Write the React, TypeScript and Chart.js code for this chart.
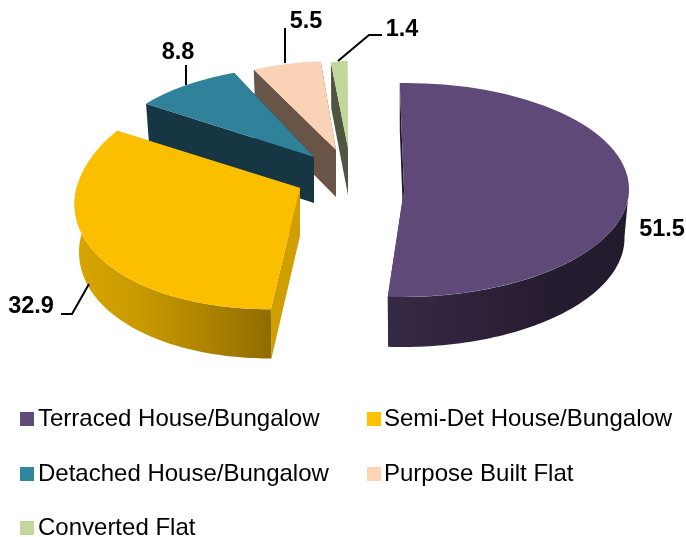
import React, { useEffect, useRef } from "react";
import { Chart, registerables } from "chart.js";

Chart.register(...registerables);

const categories = [
  "Terraced House/Bungalow",
  "Semi-Det House/Bungalow",
  "Detached House/Bungalow",
  "Purpose Built Flat",
  "Converted Flat",
];
const shares = [51.5, 32.9, 8.8, 5.5, 1.4];
const topColors = ["#5f4978", "#fcbf00", "#2f8299", "#fad2b6", "#c3d69b"];
const legendColors = ["#604a7b", "#ffc000", "#31859c", "#fcd5b5", "#c3d69b"];
const faceColors = ["#1f1629", "#cf9e00", "#153642", "#695548", "#4f5540"];
const wallStops = [
  ["#352a45", "#30223c", "#261c30", "#231a2e"],
  ["#d8a500", "#c99900", "#ad8400", "#8f6c00"],
  ["#153642", "#153642"],
  ["#695548", "#695548"],
  ["#4f5540", "#4f5540"],
];

const ARC_RADIUS = 100;
// Per-slice projection of the pie's plane onto the screen (exploded, tilted view)
const projections = [
  { ox: 404, oy: 190, a: 225, b: 0, c: -2, d: 107, depth: 49 },
  { ox: 300, oy: 188, a: 225, b: -8, c: -15, d: 121, depth: 48 },
  { ox: 314, oy: 157, a: 206, b: 6, c: -13, d: 91, depth: 46 },
  { ox: 336, oy: 150, a: 201, b: 2, c: -8, d: 89, depth: 47 },
  { ox: 348, oy: 148, a: 191, b: -16, c: -5, d: 88, depth: 47 },
];
const labelSpots = [
  { x: 662, y: 230 },
  { x: 31, y: 307 },
  { x: 178, y: 53 },
  { x: 306, y: 22 },
  { x: 402, y: 30 },
];
const leaders = [
  [],
  [[61, 314], [72, 314], [89, 284]],
  [[186, 65], [186, 85]],
  [[285, 28], [285, 63]],
  [[382, 35], [369, 35], [338, 61]],
];
const legendSpots = [
  { x: 20, y: 419 },
  { x: 367, y: 419 },
  { x: 20, y: 474 },
  { x: 367, y: 474 },
  { x: 20, y: 528 },
];

const topPoint = (i: number, phi: number) => {
  const p = projections[i];
  const X = Math.cos(phi);
  const Y = Math.sin(phi);
  return [p.ox + p.a * X + p.c * Y, p.oy + p.b * X + p.d * Y];
};
const lowPoint = (i: number, pt: number[]) => {
  const p = projections[i];
  return [p.ox + (pt[0] - p.ox) * 0.98, p.oy + (pt[1] - p.oy) * 1.01 + p.depth];
};
const fillPoly = (ctx: CanvasRenderingContext2D, pts: number[][], fill: any) => {
  ctx.beginPath();
  pts.forEach((q, k) => (k ? ctx.lineTo(q[0], q[1]) : ctx.moveTo(q[0], q[1])));
  ctx.closePath();
  ctx.fillStyle = fill;
  ctx.fill();
};

const pie3d = {
  id: "pie3d",
  afterDatasetsUpdate(chart: any) {
    chart.getDatasetMeta(0).data.forEach((arc: any, i: number) => {
      if (arc.__wrapped) return;
      arc.__wrapped = true;
      const original = arc.draw.bind(arc);
      arc.draw = (ctx: CanvasRenderingContext2D, area: any) => {
        const p = projections[i];
        ctx.save();
        ctx.translate(p.ox, p.oy);
        ctx.transform(p.a / ARC_RADIUS, p.b / ARC_RADIUS, p.c / ARC_RADIUS, p.d / ARC_RADIUS, 0, 0);
        ctx.translate(-arc.x, -arc.y);
        original(ctx, area);
        ctx.restore();
      };
    });
  },
  beforeDatasetsDraw(chart: any) {
    const ctx: CanvasRenderingContext2D = chart.ctx;
    const arcs = chart.getDatasetMeta(0).data;
    for (let i = arcs.length - 1; i >= 0; i--) {
      const arc = arcs[i];
      const p = projections[i];
      const apex = [p.ox, p.oy];
      const apexLow = lowPoint(i, apex);
      const s = arc.startAngle;
      const e = arc.endAngle;
      const sTop = topPoint(i, s);
      const eTop = topPoint(i, e);
      fillPoly(ctx, [apex, eTop, lowPoint(i, eTop), apexLow], faceColors[i]);
      fillPoly(ctx, [apex, sTop, lowPoint(i, sTop), apexLow], faceColors[i]);
      // outer wall: only the part turned to the viewer
      const from = Math.max(s, -0.02);
      const to = Math.min(e, Math.PI + 0.08);
      if (to > from) {
        const tops: number[][] = [];
        for (let k = 0; k <= 80; k++) tops.push(topPoint(i, from + ((to - from) * k) / 80));
        const lows = tops.map((q) => lowPoint(i, q)).reverse();
        const xs = tops.concat(lows).map((q) => q[0]);
        const g = ctx.createLinearGradient(Math.min(...xs), 0, Math.max(...xs), 0);
        wallStops[i].forEach((c, k, all) => g.addColorStop(k / (all.length - 1), c));
        fillPoly(ctx, tops.concat(lows), g);
      }
    }
  },
  afterDatasetsDraw(chart: any) {
    const ctx: CanvasRenderingContext2D = chart.ctx;
    const values = chart.data.datasets[0].data;
    const labels = chart.data.labels;
    ctx.save();
    ctx.strokeStyle = "#000";
    ctx.lineWidth = 2;
    leaders.forEach((line) => {
      if (!line.length) return;
      ctx.beginPath();
      line.forEach((q, k) => (k ? ctx.lineTo(q[0], q[1]) : ctx.moveTo(q[0], q[1])));
      ctx.stroke();
    });
    ctx.fillStyle = "#000";
    ctx.textAlign = "center";
    ctx.textBaseline = "middle";
    ctx.font = 'bold 23.5px "Liberation Sans", Arial, sans-serif';
    values.forEach((v: number, i: number) => ctx.fillText(v.toFixed(1), labelSpots[i].x, labelSpots[i].y));
    ctx.textAlign = "left";
    ctx.font = '24px "Liberation Sans", Arial, sans-serif';
    labels.forEach((t: string, i: number) => {
      const q = legendSpots[i];
      ctx.fillStyle = legendColors[i];
      ctx.fillRect(q.x, q.y - 7, 14, 14);
      ctx.fillStyle = "#000";
      ctx.fillText(t, q.x + (i % 2 ? 17 : 18), q.y);
    });
    ctx.restore();
  },
};

export default function App() {
  const ref = useRef<HTMLCanvasElement>(null);
  useEffect(() => {
    const chart = new Chart(ref.current as HTMLCanvasElement, {
      type: "pie",
      data: {
        labels: categories,
        datasets: [{ data: shares, backgroundColor: topColors, borderWidth: 0 }],
      },
      options: {
        animation: false,
        responsive: false,
        devicePixelRatio: 1,
        events: [],
        rotation: -1.6,
        radius: ARC_RADIUS,
        layout: { padding: 0 },
        plugins: { legend: { display: false }, tooltip: { enabled: false } },
      },
      plugins: [pie3d],
    } as any);
    return () => chart.destroy();
  }, []);
  return (
    <div style={{ position: "fixed", left: 0, top: 0, width: 686, height: 537, background: "#fff" }}>
      <canvas ref={ref} width={686} height={537} style={{ display: "block" }} />
    </div>
  );
}
